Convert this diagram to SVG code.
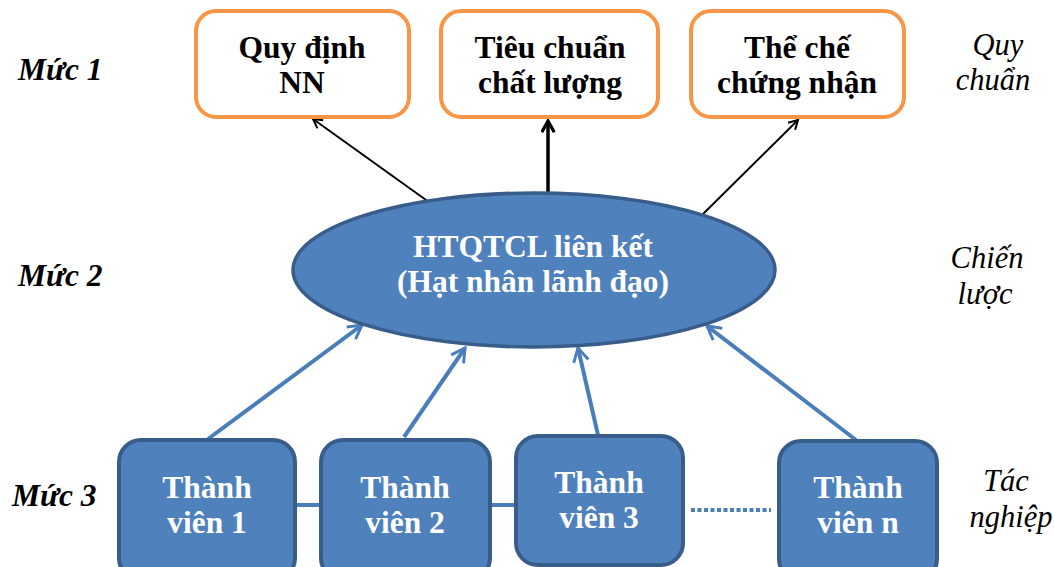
<svg xmlns="http://www.w3.org/2000/svg" width="1054" height="567" viewBox="0 0 1054 567">
  <style>
    text { font-family: "Liberation Serif", "Tinos", "Times New Roman", "DejaVu Serif", serif; font-size: 31.5px; }
    .top rect { fill: #fff; stroke: #F79646; stroke-width: 4; }
    .top text { font-weight: bold; fill: #000; text-anchor: middle; }
    .mem rect { fill: #4F81BD; stroke: #385D8A; stroke-width: 4; }
    .mem text, .core text { font-weight: bold; fill: #fff; text-anchor: middle; }
    .lvl { font-weight: bold; font-style: italic; fill: #000; }
    .side { font-style: italic; fill: #000; text-anchor: middle; font-size: 30.5px; }
    .blk { stroke: #000; fill: none; }
    .blu { stroke: #4A7EBB; stroke-width: 4; fill: none; }
  </style>
  <defs>
    <marker id="ahB" viewBox="0 0 12 12" refX="10" refY="6" markerWidth="12" markerHeight="12" markerUnits="userSpaceOnUse" orient="auto">
      <path d="M1,1 L10,6 L1,11" fill="none" stroke="#000" stroke-width="2"/>
    </marker>
    <marker id="ahB2" viewBox="0 0 12 12" refX="10" refY="6" markerWidth="15" markerHeight="15" markerUnits="userSpaceOnUse" orient="auto">
      <path d="M1,1 L10,6 L1,11" fill="none" stroke="#000" stroke-width="2.6"/>
    </marker>
    <marker id="ahU" viewBox="0 0 12 12" refX="10" refY="6" markerWidth="18" markerHeight="18" markerUnits="userSpaceOnUse" orient="auto">
      <path d="M1,1 L10,6 L1,11" fill="none" stroke="#4A7EBB" stroke-width="2"/>
    </marker>
  </defs>

  <!-- level labels -->
  <text class="lvl" x="18" y="80">Mức 1</text>
  <text class="lvl" x="18" y="286">Mức 2</text>
  <text class="lvl" x="12" y="506">Mức 3</text>

  <text class="side" x="998" y="55">Quy</text>
  <text class="side" x="993" y="90">chuẩn</text>
  <text class="side" x="987" y="268">Chiến</text>
  <text class="side" x="985" y="304">lược</text>
  <text class="side" x="1006" y="491">Tác</text>
  <text class="side" x="1011" y="527">nghiệp</text>

  <!-- connectors -->
  <g id="connectors">
    <line class="blk" stroke-width="2" x1="440" y1="210" x2="313" y2="119" marker-end="url(#ahB)"/>
    <line class="blk" stroke-width="3.5" x1="548" y1="192" x2="548" y2="121" marker-end="url(#ahB2)"/>
    <line class="blk" stroke-width="2" x1="703" y1="214" x2="798" y2="120" marker-end="url(#ahB)"/>

    <line class="blu" x1="208" y1="439" x2="362" y2="325" marker-end="url(#ahU)"/>
    <line class="blu" x1="404" y1="437" x2="465" y2="348" marker-end="url(#ahU)"/>
    <line class="blu" x1="598" y1="435" x2="578" y2="348" marker-end="url(#ahU)"/>
    <line class="blu" x1="856" y1="440" x2="707" y2="326" marker-end="url(#ahU)"/>

    <line class="blu" x1="295" y1="505" x2="320" y2="505"/>
    <line class="blu" x1="490" y1="505" x2="515" y2="505"/>
    <line class="blu" stroke-dasharray="4 2.5" x1="691" y1="510" x2="771" y2="510"/>
  </g>

  <!-- level 1 -->
  <g id="quy-dinh" class="top">
    <rect x="196" y="11" width="213" height="106" rx="20"/>
    <text x="302" y="58">Quy định</text>
    <text x="302" y="93">NN</text>
  </g>
  <g id="tieu-chuan" class="top">
    <rect x="441" y="11" width="217" height="106" rx="20"/>
    <text x="550" y="58">Tiêu chuẩn</text>
    <text x="550" y="93">chất lượng</text>
  </g>
  <g id="the-che" class="top">
    <rect x="691" y="11" width="213" height="106" rx="20"/>
    <text x="797" y="58">Thể chế</text>
    <text x="797" y="93">chứng nhận</text>
  </g>

  <!-- level 2 -->
  <g id="htqtcl" class="core">
    <ellipse cx="534" cy="270" rx="241" ry="77" fill="#4F81BD" stroke="#385D8A" stroke-width="3.5"/>
    <text x="533" y="257">HTQTCL liên kết</text>
    <text x="533" y="292">(Hạt nhân lãnh đạo)</text>
  </g>

  <!-- level 3 -->
  <g id="tv1" class="mem">
    <rect x="119" y="440" width="176" height="140" rx="22"/>
    <text x="207" y="498">Thành</text>
    <text x="207" y="533">viên 1</text>
  </g>
  <g id="tv2" class="mem">
    <rect x="321" y="440" width="169" height="140" rx="22"/>
    <text x="405" y="498">Thành</text>
    <text x="405" y="533">viên 2</text>
  </g>
  <g id="tv3" class="mem">
    <rect x="516" y="436" width="167" height="129" rx="22"/>
    <text x="599" y="493">Thành</text>
    <text x="599" y="528">viên 3</text>
  </g>
  <g id="tvn" class="mem">
    <rect x="779" y="441" width="158" height="140" rx="22"/>
    <text x="858" y="498">Thành</text>
    <text x="858" y="533">viên n</text>
  </g>
</svg>
